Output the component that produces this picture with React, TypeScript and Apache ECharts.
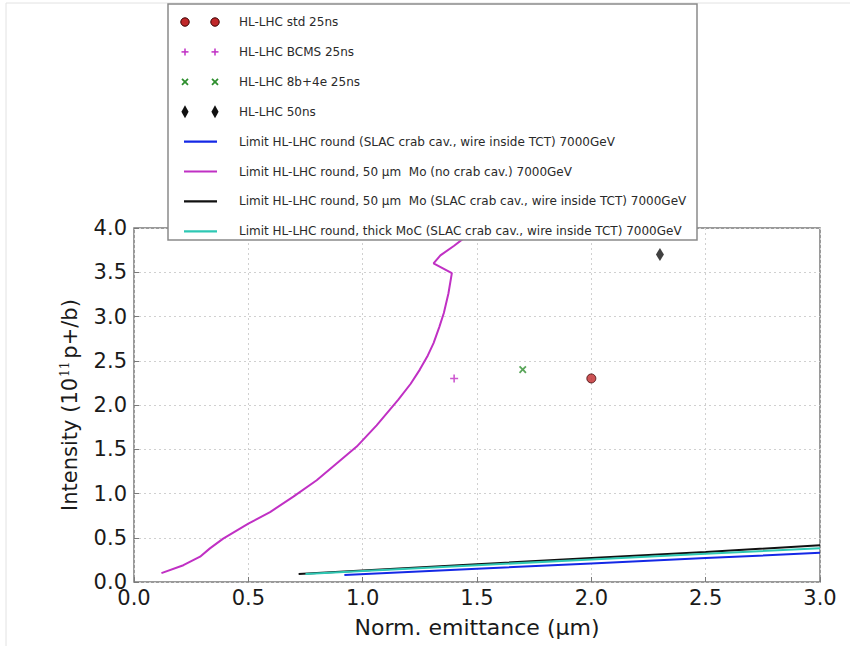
import React, { useEffect, useRef } from "react";
import * as echarts from "echarts";

// ---- data ----
const stdPoint: number[][] = [[2.0, 2.3]];
const bcmsPoint: number[][] = [[1.4, 2.3]];
const b8e4Point: number[][] = [[1.7, 2.4]];
const ns50Point: number[][] = [[2.3, 3.7]];

const noCrabX = [0.12, 0.216, 0.289, 0.332, 0.39, 0.5, 0.595, 0.697, 0.799, 0.886, 0.974, 1.061, 1.156, 1.21, 1.25, 1.285, 1.31, 1.335, 1.355, 1.375, 1.39, 1.31, 1.34, 1.4, 1.45];
const noCrabY = [0.1, 0.19, 0.286, 0.38, 0.49, 0.66, 0.79, 0.964, 1.15, 1.34, 1.53, 1.77, 2.06, 2.24, 2.4, 2.56, 2.7, 2.88, 3.04, 3.26, 3.49, 3.6, 3.69, 3.8, 3.9];

const slacX = [0.92, 1.5, 2.0, 2.5, 3.0];
const slacY = [0.08, 0.15, 0.21, 0.27, 0.33];

const moSlacX = [0.72, 1.0, 1.5, 2.0, 2.5, 3.0];
const moSlacY = [0.09, 0.13, 0.2, 0.27, 0.34, 0.415];

const mocX = [0.75, 1.0, 1.5, 2.0, 2.5, 3.0];
const mocY = [0.09, 0.125, 0.19, 0.255, 0.32, 0.38];

const legendLabels = [
  "HL-LHC std 25ns",
  "HL-LHC BCMS 25ns",
  "HL-LHC 8b+4e 25ns",
  "HL-LHC 50ns",
  "Limit HL-LHC round (SLAC crab cav., wire inside TCT) 7000GeV",
  "Limit HL-LHC round, 50 \u03bcm  Mo (no crab cav.) 7000GeV",
  "Limit HL-LHC round, 50 \u03bcm  Mo (SLAC crab cav., wire inside TCT) 7000GeV",
  "Limit HL-LHC round, thick MoC (SLAC crab cav., wire inside TCT) 7000GeV",
];

const xTicks = [0, 0.5, 1.0, 1.5, 2.0, 2.5, 3.0];
const yTicks = [0, 0.5, 1.0, 1.5, 2.0, 2.5, 3.0, 3.5, 4.0];

const C_RED = "#c0282a";
const C_MAG = "#c030c4";
const C_GREEN = "#2f8f2f";
const C_BLUE = "#1428e6";
const C_CYAN = "#2ec8b4";
const C_BLACK = "#111111";

const zip = (xs: number[], ys: number[]) => xs.map((x, i) => [x, ys[i]]);

const PLUS = "path://M4,0 L6,0 L6,4 L10,4 L10,6 L6,6 L6,10 L4,10 L4,6 L0,6 L0,4 L4,4 Z";

function buildLegend() {
  const els: any[] = [];
  const left = 168, top = 4, w = 529, h = 236;
  els.push({
    type: "rect",
    shape: { x: left, y: top, width: w, height: h },
    style: { fill: "#ffffff", stroke: "#8a8a8a", lineWidth: 1.5 },
    z: 100,
  });
  const rowY = (i: number) => 22 + i * 29.9;
  const mx = [185, 215];
  legendLabels.forEach((label, i) => {
    const y = rowY(i);
    if (i === 0) {
      mx.forEach((x) =>
        els.push({ type: "circle", shape: { cx: x, cy: y, r: 4.2 }, style: { fill: C_RED, stroke: "#3a0000", lineWidth: 1 }, z: 101 })
      );
    } else if (i === 1) {
      mx.forEach((x) => {
        els.push({ type: "line", shape: { x1: x - 3.5, y1: y, x2: x + 3.5, y2: y }, style: { stroke: C_MAG, lineWidth: 1.5 }, z: 101 });
        els.push({ type: "line", shape: { x1: x, y1: y - 3.5, x2: x, y2: y + 3.5 }, style: { stroke: C_MAG, lineWidth: 1.5 }, z: 101 });
      });
    } else if (i === 2) {
      mx.forEach((x) => {
        els.push({ type: "line", shape: { x1: x - 3, y1: y - 3, x2: x + 3, y2: y + 3 }, style: { stroke: C_GREEN, lineWidth: 1.8 }, z: 101 });
        els.push({ type: "line", shape: { x1: x - 3, y1: y + 3, x2: x + 3, y2: y - 3 }, style: { stroke: C_GREEN, lineWidth: 1.8 }, z: 101 });
      });
    } else if (i === 3) {
      mx.forEach((x) =>
        els.push({ type: "polygon", shape: { points: [[x, y - 6.5], [x + 3.6, y], [x, y + 6.5], [x - 3.6, y]] }, style: { fill: C_BLACK }, z: 101 })
      );
    } else {
      const col = [C_BLUE, C_MAG, C_BLACK, C_CYAN][i - 4];
      els.push({ type: "line", shape: { x1: 184, y1: y, x2: 217, y2: y }, style: { stroke: col, lineWidth: 2.2 }, z: 101 });
    }
    els.push({
      type: "text",
      x: 239,
      y: y,
      style: { text: label, fontSize: 12, fontFamily: "DejaVu Sans", fill: "#2a2a2a", verticalAlign: "middle", align: "left" },
      z: 101,
    });
  });
  return els;
}

export default function App() {
  const ref = useRef<HTMLDivElement>(null);
  useEffect(() => {
    if (!ref.current) return;
    const chart = echarts.init(ref.current, undefined, { renderer: "svg" });
    const tickFont = { fontSize: 21, fontFamily: "DejaVu Sans", color: "#1a1a1a" };
    chart.setOption({
      animation: false,
      backgroundColor: "#ffffff",
      grid: {
        left: 134,
        right: 30,
        top: 228,
        bottom: 64,
        show: true,
        borderColor: "#7a7a7a",
        borderWidth: 1.5,
        backgroundColor: "transparent",
      },
      xAxis: {
        type: "value",
        min: 0,
        max: 3,
        interval: 0.5,
        name: "Norm. emittance (\u03bcm)",
        nameLocation: "middle",
        nameGap: 34,
        nameTextStyle: { fontSize: 22, fontFamily: "DejaVu Sans", color: "#1a1a1a" },
        axisLine: { show: false },
        axisTick: { show: true, inside: true, length: 5, lineStyle: { color: "#7a7a7a" } },
        axisLabel: { ...tickFont, margin: 5, formatter: (v: number) => (xTicks.includes(v) ? v.toFixed(1) : "") },
        splitLine: { show: true, lineStyle: { color: "#d0d0d0", type: [2, 3], width: 1 } },
      },
      yAxis: {
        type: "value",
        min: 0,
        max: 4,
        interval: 0.5,
        name: "{a|Intensity (10}{s|11}{a|p+/b)}",
        nameLocation: "middle",
        nameRotate: 90,
        nameGap: 54,
        nameTextStyle: {
          rich: {
            a: { fontSize: 21, fontFamily: "DejaVu Sans", color: "#1a1a1a" },
            s: { fontSize: 12, fontFamily: "DejaVu Serif", color: "#1a1a1a", verticalAlign: "top", padding: [0, 3, 8, 1] },
          },
        },
        axisLine: { show: false },
        axisTick: { show: true, inside: true, length: 5, lineStyle: { color: "#7a7a7a" } },
        axisLabel: { ...tickFont, margin: 7, formatter: (v: number) => (yTicks.includes(v) ? v.toFixed(1) : "") },
        splitLine: { show: true, lineStyle: { color: "#d0d0d0", type: [2, 3], width: 1 } },
      },
      series: [
        {
          name: legendLabels[4],
          type: "line",
          data: zip(slacX, slacY),
          showSymbol: false,
          lineStyle: { color: C_BLUE, width: 2 },
          z: 2,
        },
        {
          name: legendLabels[5],
          type: "line",
          data: zip(noCrabX, noCrabY),
          showSymbol: false,
          clip: true,
          lineStyle: { color: C_MAG, width: 2 },
          z: 2,
        },
        {
          name: legendLabels[6],
          type: "line",
          data: zip(moSlacX, moSlacY),
          showSymbol: false,
          lineStyle: { color: C_BLACK, width: 2 },
          z: 2,
        },
        {
          name: legendLabels[7],
          type: "line",
          data: zip(mocX, mocY),
          showSymbol: false,
          lineStyle: { color: C_CYAN, width: 2 },
          z: 2,
        },
        {
          name: legendLabels[0],
          type: "scatter",
          data: stdPoint,
          symbol: "circle",
          symbolSize: 9,
          itemStyle: { color: C_RED, borderColor: "#3a0000", borderWidth: 1 },
          z: 3,
        },
        {
          name: legendLabels[1],
          type: "scatter",
          data: bcmsPoint,
          symbol: PLUS,
          symbolSize: 8,
          itemStyle: { color: C_MAG },
          z: 3,
        },
        {
          name: legendLabels[2],
          type: "scatter",
          data: b8e4Point,
          symbol: PLUS,
          symbolSize: 9,
          symbolRotate: 45,
          itemStyle: { color: C_GREEN },
          z: 3,
        },
        {
          name: legendLabels[3],
          type: "scatter",
          data: ns50Point,
          symbol: "diamond",
          symbolSize: [8, 13],
          itemStyle: { color: C_BLACK },
          z: 3,
        },
      ],
      graphic: [
        {
          type: "rect",
          shape: { x: 6, y: 3, width: 860, height: 660 },
          style: { fill: "transparent", stroke: "#e2e2e2", lineWidth: 1 },
          z: 0,
          silent: true,
        },
        ...buildLegend(),
      ],
    });
    return () => chart.dispose();
  }, []);
  return <div ref={ref} style={{ position: "absolute", left: 0, top: 0, width: 850, height: 646 }} />;
}
